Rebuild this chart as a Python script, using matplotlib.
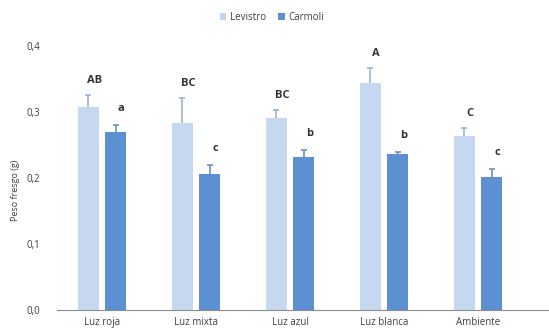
import matplotlib
matplotlib.use("Agg")
import matplotlib.pyplot as plt
import numpy as np

plt.rcParams['font.family'] = ['Open Sans', 'DejaVu Sans']

categories = ["Luz roja", "Luz mixta", "Luz azul", "Luz blanca", "Ambiente"]
levistro = [0.307, 0.284, 0.291, 0.344, 0.263]
levistro_err = [0.019, 0.037, 0.012, 0.023, 0.013]
carmoli = [0.270, 0.206, 0.232, 0.236, 0.201]
carmoli_err = [0.010, 0.014, 0.011, 0.004, 0.012]
levistro_letters = ["AB", "BC", "BC", "A", "C"]
carmoli_letters = ["a", "c", "b", "b", "c"]

W, H = 549, 333
fig = plt.figure(figsize=(W / 100, H / 100), dpi=100)
ax = fig.add_axes([57 / W, 23 / H, (W - 57) / W, 264 / H])

x = np.arange(len(categories))
off = 0.144
width = 0.225
c_lev = "#c5d8ef"
c_car = "#5d8fd3"

ax.bar(x - off, levistro, width, color=c_lev, label="Levistro")
ax.bar(x + off, carmoli, width, color=c_car, label="Carmoli")


def upper_err(xs, ys, errs, color):
    tops = np.array(ys) + np.array(errs)
    ax.vlines(xs, ys, tops, color=color, lw=1.2)
    ax.plot(xs, tops, ls="none", marker="_", ms=5, mew=1.2, color=color)


upper_err(x - off, levistro, levistro_err, "#9fb3cf")
upper_err(x + off, carmoli, carmoli_err, "#6f8fbf")

# significance letters above each bar
for i in range(len(categories)):
    ax.text(x[i] - off + 0.06, levistro[i] + levistro_err[i] + 0.022, levistro_letters[i],
            ha="center", va="center", fontsize=8, fontweight="bold", color="#333333")
    ax.text(x[i] + off + 0.06, carmoli[i] + carmoli_err[i] + 0.025, carmoli_letters[i],
            ha="center", va="center", fontsize=8, fontweight="bold", color="#333333")

ax.set_xlim(-0.479, 4.755)
ax.set_ylim(0, 0.4)
ax.set_yticks([0, 0.1, 0.2, 0.3, 0.4])
ax.set_yticklabels(["0,0", "0,1", "0,2", "0,3", "0,4"])
ax.set_xticks(x)
ax.set_xticklabels(categories)
ax.tick_params(axis="both", length=0, labelsize=7, colors="#404040")
ax.tick_params(axis="y", pad=12)
ax.tick_params(axis="x", pad=5)
for s in ["top", "right", "left"]:
    ax.spines[s].set_visible(False)
ax.spines["bottom"].set_color("#8c8c8c")
ax.spines["bottom"].set_linewidth(0.8)

fig.text(15 / W, 1 - 190 / H, "Peso fresgo (g)", rotation=90, ha="center", va="center",
         fontsize=6.5, color="#404040")

fig.legend(loc="center", bbox_to_anchor=(272 / W, 1 - 17 / H), ncol=2, frameon=False,
           fontsize=7, handlelength=0.7, handleheight=0.7, columnspacing=1.2,
           handletextpad=0.4, labelcolor="#404040")

fig.savefig("out.png", dpi=100)
